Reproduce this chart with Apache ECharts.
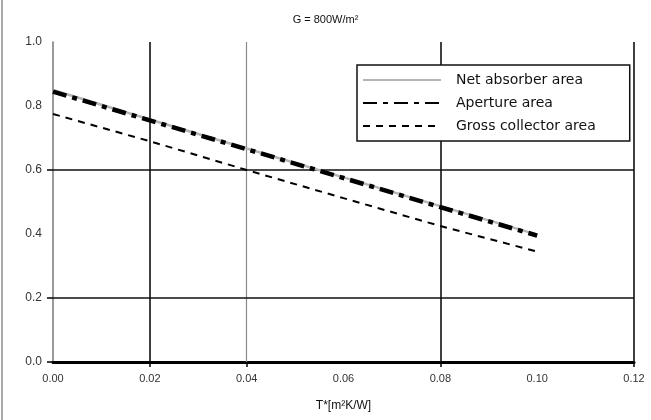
<!DOCTYPE html>
<html>
<head>
<meta charset="utf-8">
<script src="https://cdn.jsdelivr.net/npm/echarts@6/dist/echarts.min.js"></script>
<style>html,body{margin:0;padding:0;background:#fff}#c{width:651px;height:420px}</style>
</head>
<body>
<div id="c"></div>
<script>
var xValues = [0.00, 0.02, 0.04, 0.06, 0.08, 0.10];
var netAbsorber = [0.850, 0.758, 0.667, 0.577, 0.487, 0.398];
var aperture = [0.845, 0.755, 0.665, 0.575, 0.484, 0.395];
var grossCollector = [0.775, 0.690, 0.600, 0.512, 0.425, 0.345];
var xTicks = [0.00, 0.02, 0.04, 0.06, 0.08, 0.10, 0.12];
var xTickMarks = [0.02, 0.04, 0.08, 0.12];
var yTicks = [0.0, 0.2, 0.4, 0.6, 0.8, 1.0];
var yTickMarks = [0.0, 0.2, 0.6];
var vGridDark = [0.02, 0.08, 0.12];
var vGridLight = [0.04];
var hGrid = [0.2, 0.6];
var seriesNames = ['Net absorber area', 'Aperture area', 'Gross collector area'];
var titleText = 'G = 800W/m\u00B2';
var xName = 'T*[m\u00B2K/W]';

function pairs(ys){ return xValues.map(function(x,i){ return [x, ys[i]]; }); }

var markData = [];
vGridDark.forEach(function(v){ markData.push({xAxis:v, lineStyle:{color:'#111', width:1.6, type:'solid'}}); });
vGridLight.forEach(function(v){ markData.push({xAxis:v, lineStyle:{color:'#8a8a8a', width:1.2, type:'solid'}}); });
hGrid.forEach(function(v){ markData.push({yAxis:v, lineStyle:{color:'#111', width:1.6, type:'solid'}}); });

var chart = echarts.init(document.getElementById('c'));
chart.setOption({
  animation: false,
  backgroundColor: '#fff',
  textStyle: {fontFamily: 'Liberation Sans, Arial, sans-serif'},
  title: {
    text: titleText, left: 'center', top: 9,
    textStyle: {fontSize: 11, fontWeight: 'normal', color: '#111', fontFamily: 'Liberation Sans'}
  },
  graphic: [{type:'line', shape:{x1:2, y1:0, x2:2, y2:420}, style:{stroke:'#aaa', lineWidth:2}}],
  grid: {left: 53, right: 17, top: 42, bottom: 58},
  legend: {
    orient: 'vertical', left: 357, top: 65,
    data: seriesNames,
    itemWidth: 78, itemHeight: 14, itemGap: 9,
    padding: [8, 34, 8, 5],
    borderColor: '#111', borderWidth: 1.5,
    backgroundColor: '#fff',
    itemStyle: {opacity: 0},
    textStyle: {fontSize: 14, color: '#111', padding: [0,0,0,10], fontFamily: 'DejaVu Sans'}
  },
  xAxis: {
    type: 'value', min: 0, max: 0.12, interval: 0.02,
    name: xName, nameLocation: 'middle', nameGap: 38,
    nameTextStyle: {fontSize: 12, color: '#111'},
    axisLine: {show: true, onZero: false, lineStyle: {color: '#000', width: 3}},
    axisTick: {show: true, customValues: xTickMarks, length: 5, lineStyle: {color: '#000', width: 1.5}},
    axisLabel: {customValues: xTicks, formatter: function(v){ return v.toFixed(2); }, fontSize: 11, color: '#333', margin: 11},
    splitLine: {show: false}
  },
  yAxis: {
    type: 'value', min: 0, max: 1.0, interval: 0.2,
    axisLine: {show: true, onZero: false, lineStyle: {color: '#777', width: 1.5}},
    axisTick: {show: true, customValues: yTickMarks, length: 6, lineStyle: {color: '#000', width: 1.5}},
    axisLabel: {customValues: yTicks, formatter: function(v){ return v.toFixed(1); }, fontSize: 12, color: '#333', margin: 11},
    splitLine: {show: false}
  },
  series: [
    {
      name: seriesNames[0], type: 'line', data: pairs(netAbsorber), symbol: 'none', z: 3,
      lineStyle: {color: '#b5b5b5', width: 2.5, type: 'solid'}, itemStyle: {color: 'rgba(0,0,0,0)'},
      markLine: {silent: true, symbol: ['none','none'], label: {show: false}, animation: false, z: 1, data: markData}
    },
    {
      name: seriesNames[1], type: 'line', data: pairs(aperture), symbol: 'none', z: 4,
      lineStyle: {color: '#000', width: 4.5, type: [14, 6, 5, 6]}, itemStyle: {color: 'rgba(0,0,0,0)'}
    },
    {
      name: seriesNames[2], type: 'line', data: pairs(grossCollector), symbol: 'none', z: 4,
      lineStyle: {color: '#000', width: 2, type: [7, 6]}, itemStyle: {color: 'rgba(0,0,0,0)'}
    }
  ]
});
</script>
</body>
</html>
